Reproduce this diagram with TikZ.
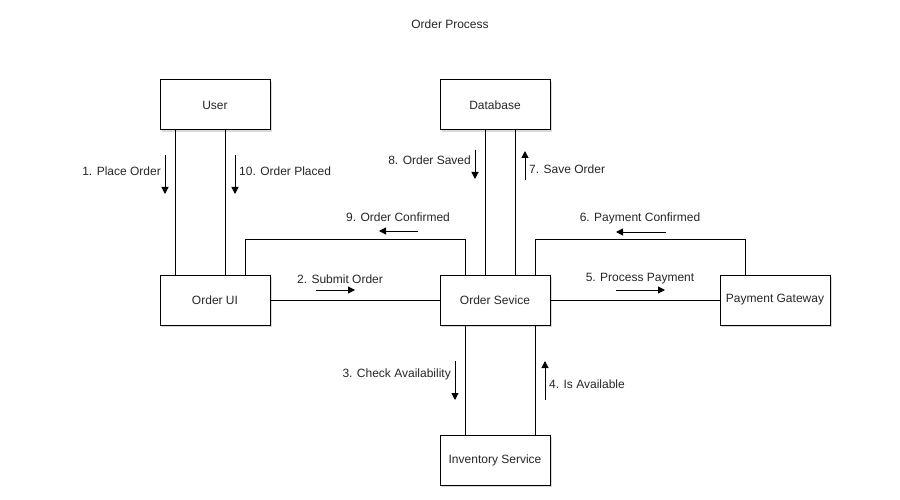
\documentclass[tikz,border=0pt]{standalone}
\usepackage{fontspec}
\setmainfont{Liberation Sans}
\usetikzlibrary{arrows.meta}
\usetikzlibrary{positioning}
\usetikzlibrary{shadows}
\tikzset{>={Triangle[length=7pt,width=7pt]}}
\tikzset{
    box/.style={draw, fill=white, line width=1pt, minimum width=110pt, minimum height=50pt, inner sep=0pt,
        drop shadow={shadow xshift=1.5pt, shadow yshift=-2pt, fill=black, opacity=0.15}},
    wire/.style={line width=1pt},
    msg/.style={->, line width=1pt},
    lbl/.style={font=\fontsize{12}{14}\selectfont, text=black!85, inner sep=0pt},
}

\begin{document}
\begin{tikzpicture}[x=1pt,y=-1pt] % order process
	\useasboundingbox (0,0) rectangle (900,500);
	\node[lbl] (title) at (450,24) {Order Process};
	\node[box,lbl] (user) at (215,105) {User};
	\node[box,lbl] (db) at (495,105) {Database};
	\node[box,lbl] (ui) at (215,300) {Order UI};
	\node[box,lbl] (svc) at (495,300) {Order Sevice};
	\node[box,lbl] (pay) at (775,300) {Payment Gateway};
	\node[box,lbl] (inv) at (495,460) {Inventory Service};
	% links
	\draw[wire] ([xshift=-40pt]user.south) -- ([xshift=-40pt]ui.north);
	\draw[wire] ([xshift=10pt]user.south) -- ([xshift=10pt]ui.north);
	\draw[wire] (ui) -- (svc);
	\draw[wire] ([xshift=30pt]ui.north) -- ++(0,-35) -| ([xshift=-30pt]svc.north);
	\draw[wire] ([xshift=-10pt]db.south) -- ([xshift=-10pt]svc.north);
	\draw[wire] ([xshift=20pt]db.south) -- ([xshift=20pt]svc.north);
	\draw[wire] (svc) -- (pay);
	\draw[wire] ([xshift=40pt]svc.north) -- ++(0,-35) -| ([xshift=-30pt]pay.north);
	\draw[wire] ([xshift=-30pt]svc.south) -- ([xshift=-30pt]inv.north);
	\draw[wire] ([xshift=40pt]svc.south) -- ([xshift=40pt]inv.north);
	% messages
	\draw[msg] (165,155) -- (165,194);
	\node[lbl, anchor=east] (m1) at (161,171) {1. Place Order};
	\draw[msg] (316,290) -- (355,290);
	\node[lbl] (m2) at (340,279) {2. Submit Order};
	\draw[msg] (455,361) -- (455,400);
	\node[lbl, anchor=east] (m3) at (451,374) {3. Check Availability};
	\draw[msg] (545,400) -- (545,361);
	\node[lbl, anchor=west] (m4) at (549,384) {4. Is Available};
	\draw[msg] (616,290) -- (665,290);
	\node[lbl] (m5) at (640,279) {5. Process Payment};
	\draw[msg] (666,232) -- (616,232);
	\node[lbl] (m6) at (640,218) {6. Payment Confirmed};
	\draw[msg] (525,180) -- (525,151);
	\node[lbl, anchor=west] (m7) at (529,169) {7. Save Order};
	\draw[msg] (475,150) -- (475,179);
	\node[lbl, anchor=east] (m8) at (471,160) {8. Order Saved};
	\draw[msg] (418,231) -- (379,231);
	\node[lbl] (m9) at (398,217) {9. Order Confirmed};
	\draw[msg] (235,155) -- (235,194);
	\node[lbl, anchor=west] (m10) at (239,171) {10. Order Placed};
\end{tikzpicture}
\end{document}
